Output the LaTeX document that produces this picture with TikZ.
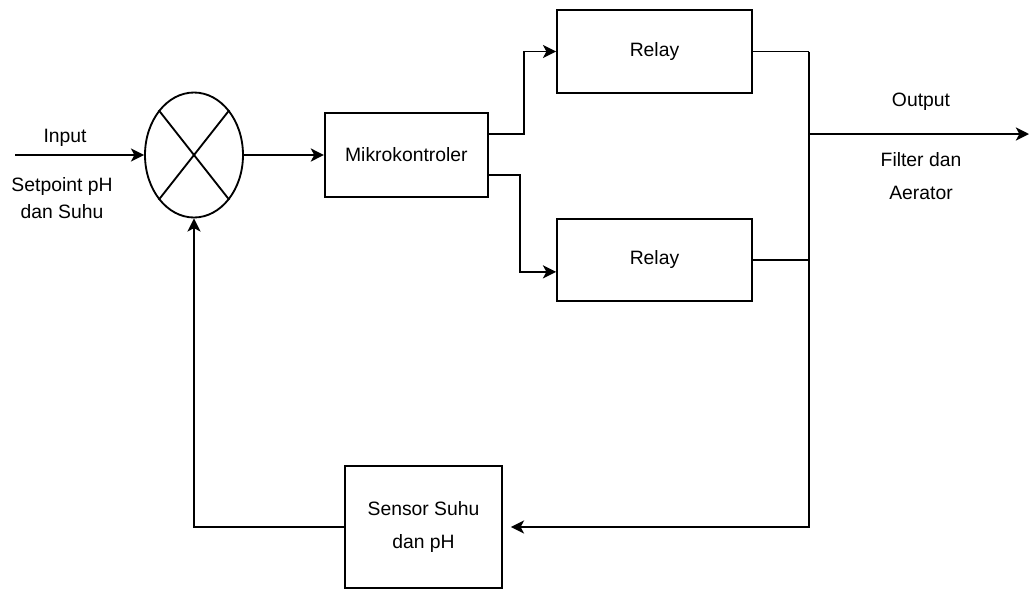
\documentclass[tikz,border=0pt]{standalone}
\usepackage{fontspec}
\setmainfont{Liberation Sans}
\usetikzlibrary{positioning, arrows.meta, shapes.geometric}

\begin{document}
\begin{tikzpicture}[
        node distance=1.6cm,
        font=\fontsize{11}{16}\selectfont,
        line width=1.05pt,
        block/.style={rectangle, draw, align=center, inner sep=0pt},
        summer/.style={ellipse, draw, minimum width=1.96cm, minimum height=2.5cm, inner sep=0pt},
        txt/.style={align=center, inner sep=0pt},
        arrow/.style={-{Stealth[length=7.5pt, width=7.5pt, inset=2pt]}}
    ]
    \useasboundingbox (0,0) rectangle (20.6,-11.8);

    % Nodes
    \node (sum) [summer] at (3.88,-3.1) {};
    \node (mikro) [block, right=1.6cm of sum, minimum width=3.26cm, minimum height=1.68cm] {Mikrokontroler};
    \node (relay1) [block, minimum width=3.9cm, minimum height=1.66cm] at (13.09,-1.03) {Relay};
    \node (relay2) [block, below=2.48cm of relay1, minimum width=3.9cm, minimum height=1.64cm] {Relay};
    \node (sensor) [block, font=\fontsize{11}{19}\selectfont, minimum width=3.14cm, minimum height=2.44cm] at (8.47,-10.54) {Sensor Suhu\\dan pH};

    % Labels
    \node (inlbl) [txt] at (1.3,-2.76) {Input};
    \node (setlbl) [txt, font=\fontsize{11}{15.4}\selectfont] at (1.24,-3.97) {Setpoint pH\\dan Suhu};
    \node (outlbl) [txt] at (18.42,-2.04) {Output};
    \node (filterlbl) [txt, font=\fontsize{11}{18.5}\selectfont] at (18.42,-3.52) {Filter dan\\Aerator};

    % Coordinates
    \coordinate (in) at (0.3,-3.1);
    \coordinate (bustop) at (16.18,-1.03);
    \coordinate (busout) at (16.18,-2.68);
    \coordinate (out) at (20.58,-2.68);

    % Summing junction cross
    \draw (sum.north west) -- (sum.south east);
    \draw (sum.north east) -- (sum.south west);

    % Arrows
    \draw [arrow] (in) -- (sum.west);
    \draw [arrow] (sum.east) -- (mikro.west);
    \draw [arrow] ([yshift=0.42cm]mikro.east) -- ++(0.7,0) |- (relay1.west);
    \draw [arrow] ([yshift=-0.4cm]mikro.east) -- ++(0.62,0) |- ([yshift=-0.24cm]relay2.west);

    \draw (relay1.east) -- (bustop);
    \draw (relay2.east) -- (relay2.east -| bustop);
    \draw [arrow] (bustop) |- ([xshift=0.16cm]sensor.east);
    \draw [arrow] (busout) -- (out);

    \draw [arrow] (sensor.west) -| (sum.south);

    \end{tikzpicture}
\end{document}
